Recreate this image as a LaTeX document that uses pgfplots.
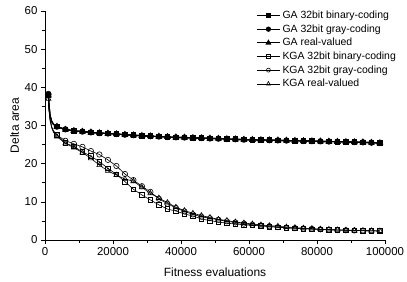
\documentclass[border=0pt]{standalone}
\usepackage{pgfplots}
\usepackage{pgfplotstable}
\pgfplotsset{compat=1.18}
\usepackage{fontspec}
\setmainfont{Liberation Sans}
\pgfplotstableread{
x gab gag gar kb kg kr
1000 38.0 38.1 37.9 38.2 38.3 37.0
1200 35.0 35.0 35.0 34.0 34.2 33.6
1500 32.5 32.5 32.5 31.5 31.6 31.2
2000 31.0 31.0 31.0 29.5 29.6 29.3
2500 30.3 30.3 30.3 28.5 28.6 28.2
3500 29.7 29.7 29.7 27.6 27.5 27.1
6000 29.0 29.0 28.9 25.4 26.0 25.3
8500 28.6 28.6 28.6 24.5 25.2 24.2
11000 28.4 28.4 28.4 23.1 24.4 22.9
13500 28.2 28.2 28.2 22.0 23.3 21.4
16000 28.0 28.0 28.0 20.5 22.4 19.6
18500 27.9 27.9 27.9 18.8 21.0 18.1
21000 27.75 27.75 27.75 17.2 19.4 17.0
23500 27.6 27.6 27.6 15.3 17.3 16.0
26000 27.45 27.45 27.45 13.3 15.7 15.4
28500 27.3 27.3 27.3 11.8 14.1 13.8
31000 27.2 27.2 27.2 10.5 12.6 12.2
33500 27.1 27.1 27.1 9.2 10.8 11.0
36000 27.0 27.0 27.0 8.1 9.5 9.8
38500 26.9 26.9 26.9 7.6 8.4 8.6
41000 26.85 26.85 26.85 6.8 7.5 7.7
43500 26.75 26.75 26.75 6.3 6.7 7.0
46000 26.7 26.7 26.7 5.5 6.1 6.4
48500 26.6 26.6 26.6 5.1 5.7 5.9
51000 26.55 26.55 26.55 4.7 5.3 5.4
53500 26.45 26.45 26.45 4.4 4.9 5.1
56000 26.4 26.4 26.4 4.2 4.6 4.7
58500 26.3 26.3 26.3 4.0 4.3 4.45
61000 26.25 26.25 26.25 3.85 4.0 4.2
63500 26.2 26.2 26.2 3.7 3.8 3.95
66000 26.15 26.15 26.15 3.5 3.6 3.75
68500 26.1 26.1 26.1 3.35 3.35 3.6
71000 26.05 26.05 26.05 3.2 3.2 3.4
73500 26.0 26.0 26.0 3.05 3.1 3.25
76000 25.95 25.95 25.95 2.95 3.0 3.1
78500 25.9 25.9 25.9 2.85 2.9 3.0
81000 25.85 25.85 25.85 2.75 2.8 2.85
83500 25.8 25.8 25.8 2.65 2.7 2.75
86000 25.75 25.75 25.75 2.6 2.6 2.65
88500 25.7 25.7 25.7 2.55 2.55 2.6
91000 25.65 25.65 25.65 2.5 2.5 2.5
93500 25.6 25.6 25.6 2.45 2.45 2.45
96000 25.5 25.5 25.5 2.4 2.4 2.4
98500 25.4 25.4 25.4 2.35 2.35 2.35
}\data
\def\mi{1,6,7,8,9,10,11,12,13,14,15,16,17,18,19,20,21,22,23,24,25,26,27,28,29,30,31,32,33,34,35,36,37,38,39,40,41,42,43,44}
\begin{document}
\begin{tikzpicture}
\path[use as bounding box] (0,0) rectangle (407bp,282bp);
\begin{axis}[
  at={(45bp,42bp)}, anchor=south west,
  scale only axis, width=340bp, height=229bp,
  xmin=0, xmax=100000, ymin=0, ymax=60,
  axis x line*=bottom, axis y line*=left,
  axis line style={-, line width=0.8pt},
  xtick={0,20000,...,100000}, ytick={0,10,...,60},
  minor x tick num=1, minor y tick num=1,
  tick align=outside,
  major tick length=4bp, minor tick length=2.5bp,
  tick style={line width=0.6pt, black},
  scaled x ticks=false,
  /pgf/number format/assume math mode=true,
  xticklabel={\pgfmathprintnumber[fixed,1000 sep={}]{\tick}},
  tick label style={font=\fontsize{11.5}{13}\selectfont},
  xlabel={Fitness evaluations}, ylabel={Delta area},
  label style={font=\fontsize{12}{14}\selectfont},
  xlabel style={yshift=-5bp},
  ylabel style={yshift=-1bp},
  legend style={draw=none, fill=none, at={(rel axis cs:0.618,1.014)}, anchor=north west,
    font=\fontsize{10.5}{12}\selectfont, row sep=0.6pt, inner sep=1pt,
    nodes={inner xsep=2pt}},
  legend cell align=left,
  legend image code/.code={\draw[mark repeat=2,mark phase=2,#1] plot coordinates {(0bp,0bp) (11.5bp,0bp) (23bp,0bp)};},
  legend image post style={mark indices={2}},
  every axis plot/.append style={black, mark indices={\mi}},
]
\addplot[line width=1.2pt, mark=square*, mark size=2.2pt, legend image post style={mark size=1.8pt}] table[x=x,y=gab]{\data};
\addlegendentry{GA 32bit binary-coding}
\addplot[line width=1.2pt, mark=*, mark size=2.5pt, legend image post style={mark size=2pt}] table[x=x,y=gag]{\data};
\addlegendentry{GA 32bit gray-coding}
\addplot[line width=1.2pt, mark=triangle*, mark size=2.9pt, legend image post style={mark size=2.3pt}] table[x=x,y=gar]{\data};
\addlegendentry{GA real-valued}
\addplot[line width=0.6pt, mark=square, mark size=2.3pt, mark options={fill=white, line width=0.6pt}, legend image post style={mark size=1.8pt}] table[x=x,y=kb]{\data};
\addlegendentry{KGA 32bit binary-coding}
\addplot[line width=0.6pt, mark=o, mark size=2.7pt, mark options={fill=white, line width=0.6pt}, legend image post style={mark size=2pt}] table[x=x,y=kg]{\data};
\addlegendentry{KGA 32bit gray-coding}
\addplot[line width=0.6pt, mark=triangle, mark size=3.0pt, mark options={fill=white, line width=0.6pt}, legend image post style={mark size=2.3pt}] table[x=x,y=kr]{\data};
\addlegendentry{KGA real-valued}
\end{axis}
\end{tikzpicture}
\end{document}
